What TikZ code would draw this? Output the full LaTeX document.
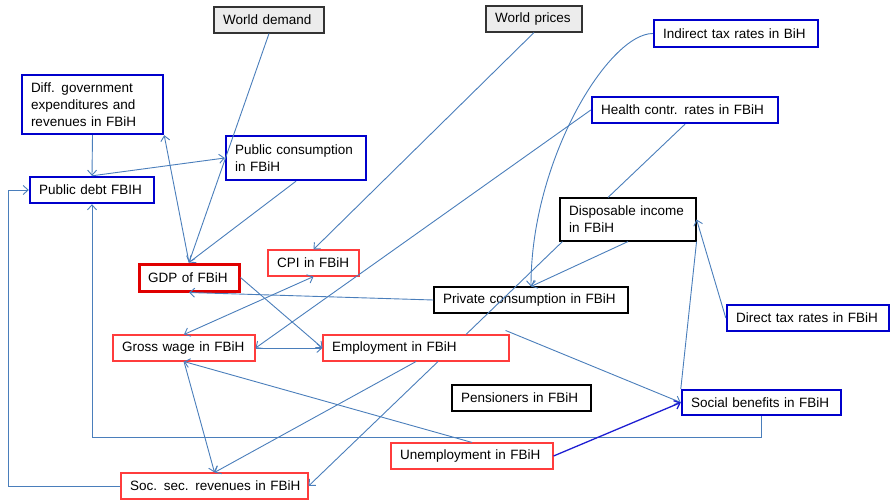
\documentclass[tikz,border=0pt]{standalone}
\usepackage{fontspec}
\setmainfont{Liberation Sans}
\usepackage{tikz}
\usetikzlibrary{arrows.meta}
\definecolor{lblue}{RGB}{74,126,187}
\definecolor{bblue}{RGB}{0,0,204}
\definecolor{bred}{RGB}{255,60,60}
\definecolor{gred}{RGB}{224,0,0}
\definecolor{dblue}{RGB}{30,30,210}
\definecolor{wgray}{RGB}{236,236,236}
\tikzstyle{var} = [rectangle, draw, line width=1.1pt, inner xsep=9pt, inner ysep=2pt, align=left, text=black, font=\fontsize{13.5}{17}\selectfont]
\tikzstyle{policy} = [var, draw=bblue, line width=2.4pt]
\tikzstyle{endo} = [var, draw=bred]
\tikzstyle{gdp} = [var, draw=gred, line width=3pt]
\tikzstyle{aux} = [var, draw=black]
\tikzstyle{world} = [var, draw=black!80, fill=wgray]
\tikzstyle{tedge}  = [draw=lblue, line width=0.9pt, -{Straight Barb[length=5pt,width=9pt]}]
\tikzstyle{tboth}  = [draw=lblue, line width=0.9pt, {Straight Barb[length=5pt,width=9pt]}-{Straight Barb[length=5pt,width=9pt]}]
\tikzstyle{tline}  = [draw=lblue, line width=0.9pt]

\begin{document}
\begin{tikzpicture}[x=1pt, y=-1pt]
\useasboundingbox (0,0) rectangle (890,500);

% exogenous and policy variables =============================
\node[world, text width=92pt, minimum height=26pt] (wd) at (269,20) {World demand};
\node[world, text width=78pt, minimum height=26pt] (wp) at (534,19) {World prices};
\node[policy, text width=146pt, minimum height=27pt] (itr) at (736,33.5) {Indirect tax rates in BiH};
\node[policy, text width=123pt, minimum height=59pt] (diff) at (92.5,104.5) {Diff. government\\expenditures and\\revenues in FBiH};
\node[policy, text width=168pt, minimum height=26pt] (hcr) at (685,110) {Health contr. rates in FBiH};
\node[policy, text width=122pt, minimum height=44pt] (pubc) at (296,158) {Public consumption\\in FBiH};
\node[policy, text width=106pt, minimum height=26pt] (debt) at (92,190) {Public debt FBIH};
\node[policy, text width=144pt, minimum height=26pt] (dtr) at (808,318) {Direct tax rates in FBiH};
\node[policy, text width=141pt, minimum height=25pt] (sb) at (761.5,402.5) {Social benefits in FBiH};

% endogenous variables =============================
\node[aux, text width=118pt, minimum height=43pt] (di) at (628,219.5) {Disposable income\\in FBiH};
\node[endo, text width=73pt, minimum height=26pt] (cpi) at (313.5,263) {CPI in FBiH};
\node[gdp, text width=82pt, minimum height=27pt] (gdp) at (189,277.5) {GDP of FBiH};
\node[aux, text width=176pt, minimum height=26pt] (prc) at (531,300) {Private consumption in FBiH};
\node[endo, text width=124pt, minimum height=26pt] (gw) at (184,348) {Gross wage in FBiH};
\node[endo, text width=168pt, minimum height=26pt] (emp) at (416,348) {Employment in FBiH};
\node[aux, text width=121pt, minimum height=26pt] (pen) at (521.5,398) {Pensioners in FBiH};
\node[endo, text width=144pt, minimum height=26pt] (um) at (472,456) {Unemployment in FBiH};
\node[endo, text width=177pt, inner xsep=5pt, minimum height=26pt] (ssr) at (214.5,486) {\hspace{4pt}Soc. sec. revenues in FBiH};

\coordinate (lx) at (8,0);
\coordinate (by) at (0,437);

% edges
\draw[tedge] (wd.south) -- (gdp.north);
\draw[tedge] (pubc.south) -- (gdp.north);
\draw[tedge] (gdp.north) -- (diff.south east);
\draw[tedge] (diff.south) -- (debt.north);
\draw[tedge] (debt.north) -- (pubc.west);
\draw[tedge] (ssr.west) -- (ssr.west -| lx) |- (debt.west);
\draw[tedge] (sb.south) -- (sb.south |- by) -| (debt.south);
\draw[tedge] (wp.south) -- (cpi.north);
\draw[tedge] (itr.west) .. controls +(-44,0) and +(0,-127) .. (prc.north);
\draw[tedge] (hcr.west) -- (gw.east);
\draw[tline] (hcr.south) -- ([xshift=-20pt]di.north);
\draw[tline] ([xshift=3pt]di.south west) -- ([xshift=50pt]emp.north);
\draw[tedge] (di.south) -- (prc.north);
\draw[tline] (sb.north west) -- (di.south east);
\draw[tedge] (dtr.west) -- (di.east);
\draw[tedge] (prc.west) -- (gdp.south);
\draw[tedge] (gdp.east) -- (emp.west);
\draw[tboth] (gw.north) -- (cpi.south);
\draw[tedge] (gw.east) -- (emp.west);
\draw[tedge] (gw.south) -- (ssr.north);
\draw[tedge] (um.north) -- (gw.south);
\draw[tedge] (emp.south) -- (ssr.north);
\draw[tedge] ([xshift=22pt]emp.south) -- (ssr.east);
\draw[tedge] ([xshift=-4pt, yshift=4pt]emp.north east) -- (sb.west);
\draw[tedge, draw=dblue, line width=1.3pt] (um.east) -- (sb.west);

\end{tikzpicture}
\end{document}
